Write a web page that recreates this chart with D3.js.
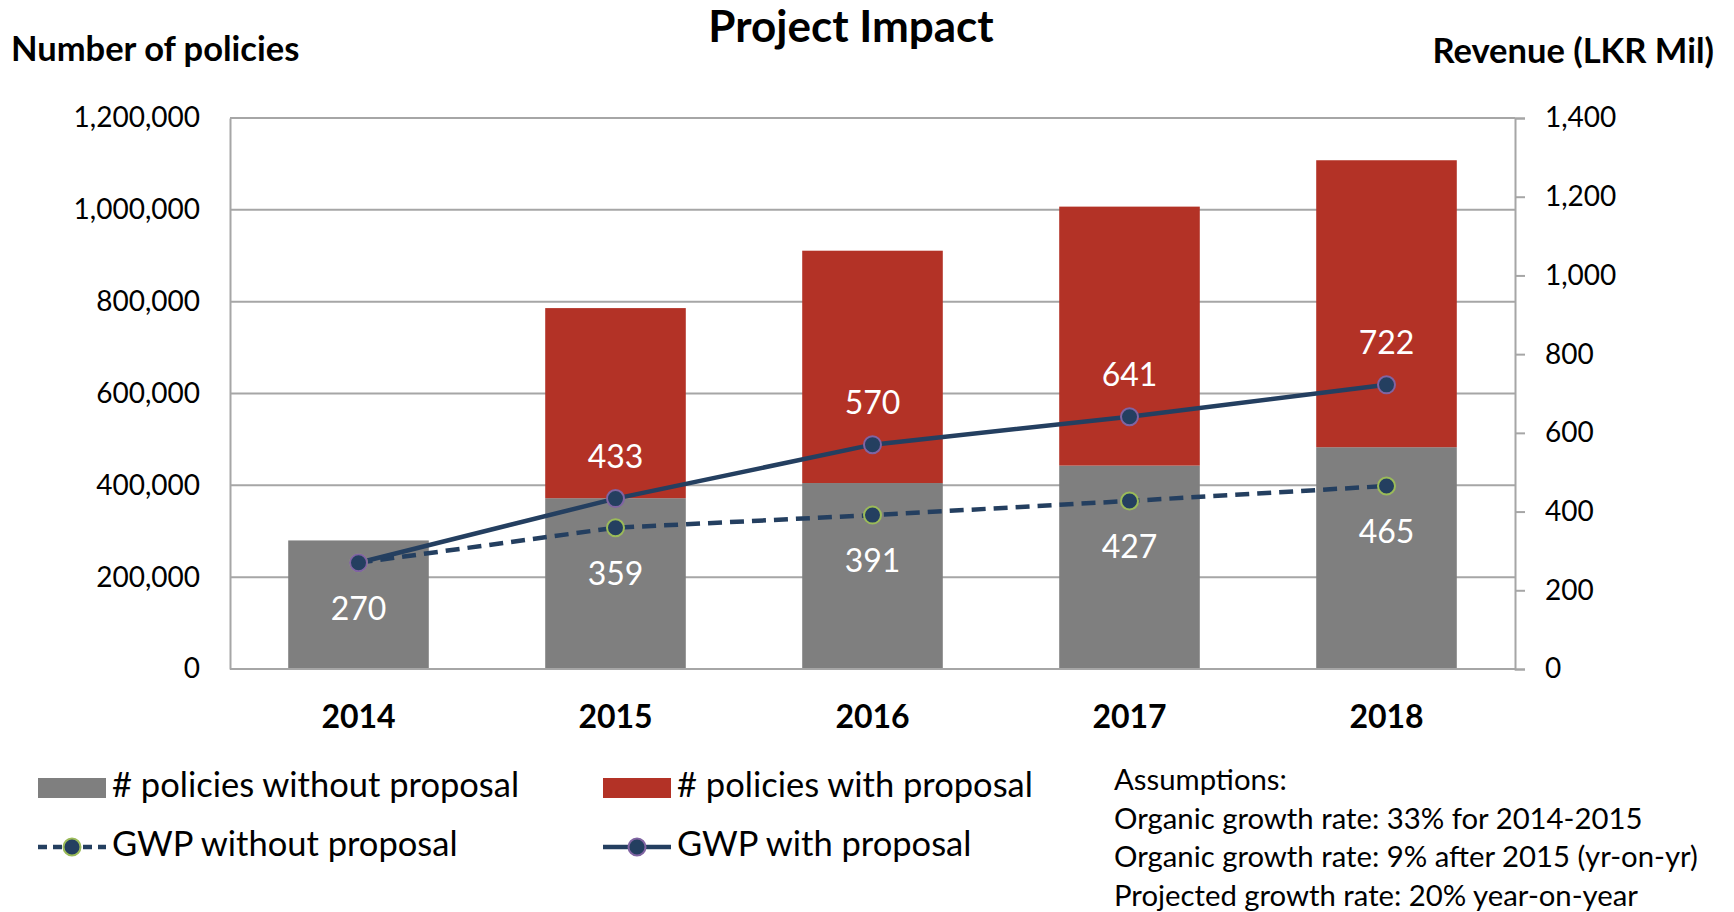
<!DOCTYPE html>
<html>
<head>
<meta charset="utf-8">
<script src="https://cdn.jsdelivr.net/npm/d3@7"></script>
<style>
    body { margin: 0; background: #ffffff; }
    svg { display: block; font-family: Lato, "Open Sans", sans-serif; }
</style>
</head>
<body>
<div id="chart"></div>
<script>
// Data
const years = ["2014", "2015", "2016", "2017", "2018"];
const policiesWithout = [280000, 372000, 405000, 443000, 483000];
const policiesExtra = [0, 414000, 506000, 564000, 625000];
const gwpWithout = [270, 359, 391, 427, 465];
const gwpWith = [270, 433, 570, 641, 722];
const leftTicks = [0, 200000, 400000, 600000, 800000, 1000000, 1200000];
const rightTicks = [0, 200, 400, 600, 800, 1000, 1200, 1400];
const assumptions = [
    "Assumptions:",
    "Organic growth rate: 33% for 2014-2015",
    "Organic growth rate: 9% after 2015 (yr-on-yr)",
    "Projected growth rate: 20% year-on-year"
];

const grey = "#7f7f7f";
const red = "#b33226";
const navy = "#243f60";

document.addEventListener('DOMContentLoaded', function () {
    drawChart();
});

function drawChart() {
    var W = 1734, H = 912;
    var margin = { top: 118, right: 219, bottom: 243, left: 230 },
        width = W - margin.left - margin.right,
        height = H - margin.top - margin.bottom;

    var svg = d3.select("#chart").append("svg")
        .attr("width", W)
        .attr("height", H);

    var g = svg.append("g")
        .attr("transform", `translate(${margin.left},${margin.top})`);

    var x = d3.scaleBand()
        .domain(years)
        .range([0, width])
        .paddingInner(0.453)
        .paddingOuter(0.2265);

    var yLeft = d3.scaleLinear().domain([0, 1200000]).range([height, 0]);
    var yRight = d3.scaleLinear().domain([0, 1400]).range([height, 0]);

    // gridlines
    g.selectAll(".grid")
        .data(leftTicks)
        .enter()
        .append("line")
        .attr("x1", 0)
        .attr("x2", width)
        .attr("y1", d => yLeft(d))
        .attr("y2", d => yLeft(d))
        .attr("stroke", "#a6a6a6")
        .attr("stroke-width", 2);

    // left axis (labels only)
    var leftAxis = g.append("g")
        .call(d3.axisLeft(yLeft).tickValues(leftTicks).tickSize(0).tickPadding(30).tickFormat(d3.format(",")));
    leftAxis.select(".domain").attr("stroke", "#a6a6a6").attr("stroke-width", 2);
    leftAxis.selectAll("text")
        .attr("font-size", 28)
        .attr("font-family", "Lato")
        .attr("fill", "#000");

    // right axis
    var rightAxis = g.append("g")
        .attr("transform", `translate(${width},0)`)
        .call(d3.axisRight(yRight).tickValues(rightTicks).tickSize(10).tickPadding(20).tickFormat(d3.format(",")));
    rightAxis.select(".domain").attr("stroke", "#a6a6a6").attr("stroke-width", 2);
    rightAxis.selectAll(".tick line").attr("stroke", "#a6a6a6").attr("stroke-width", 2);
    rightAxis.selectAll("text")
        .attr("font-size", 28)
        .attr("font-family", "Lato")
        .attr("fill", "#000");

    // stacked bars
    var stackData = years.map((y, i) => ({ year: y, without: policiesWithout[i], extra: policiesExtra[i] }));
    var series = d3.stack().keys(["without", "extra"])(stackData);
    var colors = { without: grey, extra: red };

    g.selectAll(".layer")
        .data(series)
        .enter()
        .append("g")
        .attr("fill", d => colors[d.key])
        .selectAll("rect")
        .data(d => d.filter(p => p[1] > p[0]))
        .enter()
        .append("rect")
        .attr("x", d => x(d.data.year))
        .attr("width", x.bandwidth())
        .attr("y", d => yLeft(d[1]))
        .attr("height", d => yLeft(d[0]) - yLeft(d[1]));

    // bottom axis line again over bars
    g.append("line")
        .attr("x1", 0).attr("x2", width)
        .attr("y1", height).attr("y2", height)
        .attr("stroke", "#a6a6a6").attr("stroke-width", 2);

    // category labels
    g.selectAll(".cat")
        .data(years)
        .enter()
        .append("text")
        .attr("x", d => x(d) + x.bandwidth() / 2)
        .attr("y", height + 51)
        .attr("text-anchor", "middle")
        .attr("dominant-baseline", "middle")
        .attr("font-size", 32)
        .attr("font-weight", "bold")
        .text(d => d);

    var cx = d => x(d) + x.bandwidth() / 2;

    // lines
    var gwpLine = d3.line().x((d, i) => cx(years[i])).y(d => yRight(d));
    g.append("path")
        .datum(gwpWithout)
        .attr("d", gwpLine)
        .attr("fill", "none")
        .attr("stroke", navy)
        .attr("stroke-width", 4.5)
        .attr("stroke-dasharray", "14,8");

    g.append("path")
        .datum(gwpWith)
        .attr("d", gwpLine)
        .attr("fill", "none")
        .attr("stroke", navy)
        .attr("stroke-width", 4.5);

    g.selectAll(".mWithout")
        .data(gwpWithout)
        .enter()
        .append("circle")
        .attr("cx", (d, i) => cx(years[i]))
        .attr("cy", d => yRight(d))
        .attr("r", 8.5)
        .attr("fill", navy)
        .attr("stroke", "#9bbb59")
        .attr("stroke-width", 2);

    g.selectAll(".mWith")
        .data(gwpWith)
        .enter()
        .append("circle")
        .attr("cx", (d, i) => cx(years[i]))
        .attr("cy", d => yRight(d))
        .attr("r", 8.5)
        .attr("fill", navy)
        .attr("stroke", "#8064a2")
        .attr("stroke-width", 2);

    // data labels
    g.selectAll(".lWithout")
        .data(gwpWithout)
        .enter()
        .append("text")
        .attr("x", (d, i) => cx(years[i]))
        .attr("y", d => yRight(d) + 49)
        .attr("text-anchor", "middle")
        .attr("dominant-baseline", "middle")
        .attr("font-size", 32)
        .attr("fill", "#fff")
        .text(d => d);

    g.selectAll(".lWith")
        .data(gwpWith.slice(1))
        .enter()
        .append("text")
        .attr("x", (d, i) => cx(years[i + 1]))
        .attr("y", d => yRight(d) - 39)
        .attr("text-anchor", "middle")
        .attr("dominant-baseline", "middle")
        .attr("font-size", 32)
        .attr("fill", "#fff")
        .text(d => d);

    // titles
    svg.append("text")
        .attr("x", 851).attr("y", 31)
        .attr("text-anchor", "middle")
        .attr("dominant-baseline", "middle")
        .attr("font-size", 44)
        .attr("font-weight", "bold")
        .text("Project Impact");

    svg.append("text")
        .attr("x", 11).attr("y", 52)
        .attr("dominant-baseline", "middle")
        .attr("font-size", 34.5)
        .attr("font-weight", "bold")
        .text("Number of policies");

    svg.append("text")
        .attr("x", 1714).attr("y", 54)
        .attr("text-anchor", "end")
        .attr("dominant-baseline", "middle")
        .attr("font-size", 34.5)
        .attr("font-weight", "bold")
        .text("Revenue (LKR Mil)");

    // legend
    var legend = svg.append("g");
    var legendItems = [
        { type: "rect", color: grey, label: "# policies without proposal", x: 38, y: 788 },
        { type: "rect", color: red, label: "# policies with proposal", x: 603, y: 788 },
        { type: "dash", color: navy, edge: "#9bbb59", label: "GWP without proposal", x: 38, y: 847 },
        { type: "line", color: navy, edge: "#8064a2", label: "GWP with proposal", x: 603, y: 847 }
    ];
    legendItems.forEach(function (it) {
        if (it.type === "rect") {
            legend.append("rect")
                .attr("x", it.x).attr("y", it.y - 10)
                .attr("width", 68).attr("height", 20)
                .attr("fill", it.color);
        } else {
            legend.append("line")
                .attr("x1", it.x).attr("x2", it.x + 68)
                .attr("y1", it.y).attr("y2", it.y)
                .attr("stroke", it.color)
                .attr("stroke-width", 4.5)
                .attr("stroke-dasharray", it.type === "dash" ? "9,6" : null);
            legend.append("circle")
                .attr("cx", it.x + 34).attr("cy", it.y)
                .attr("r", 8.5)
                .attr("fill", it.color)
                .attr("stroke", it.edge)
                .attr("stroke-width", 2);
        }
        legend.append("text")
            .attr("x", it.x + 74).attr("y", it.y)
            .attr("dominant-baseline", "middle")
            .attr("font-size", 34.5)
            .text(it.label);
    });

    // assumptions note
    svg.append("g")
        .selectAll("text")
        .data(assumptions)
        .enter()
        .append("text")
        .attr("x", 1114)
        .attr("y", (d, i) => 783 + i * 38.5)
        .attr("dominant-baseline", "middle")
        .attr("font-size", 29.3)
        .text(d => d);
}
</script>
</body>
</html>
